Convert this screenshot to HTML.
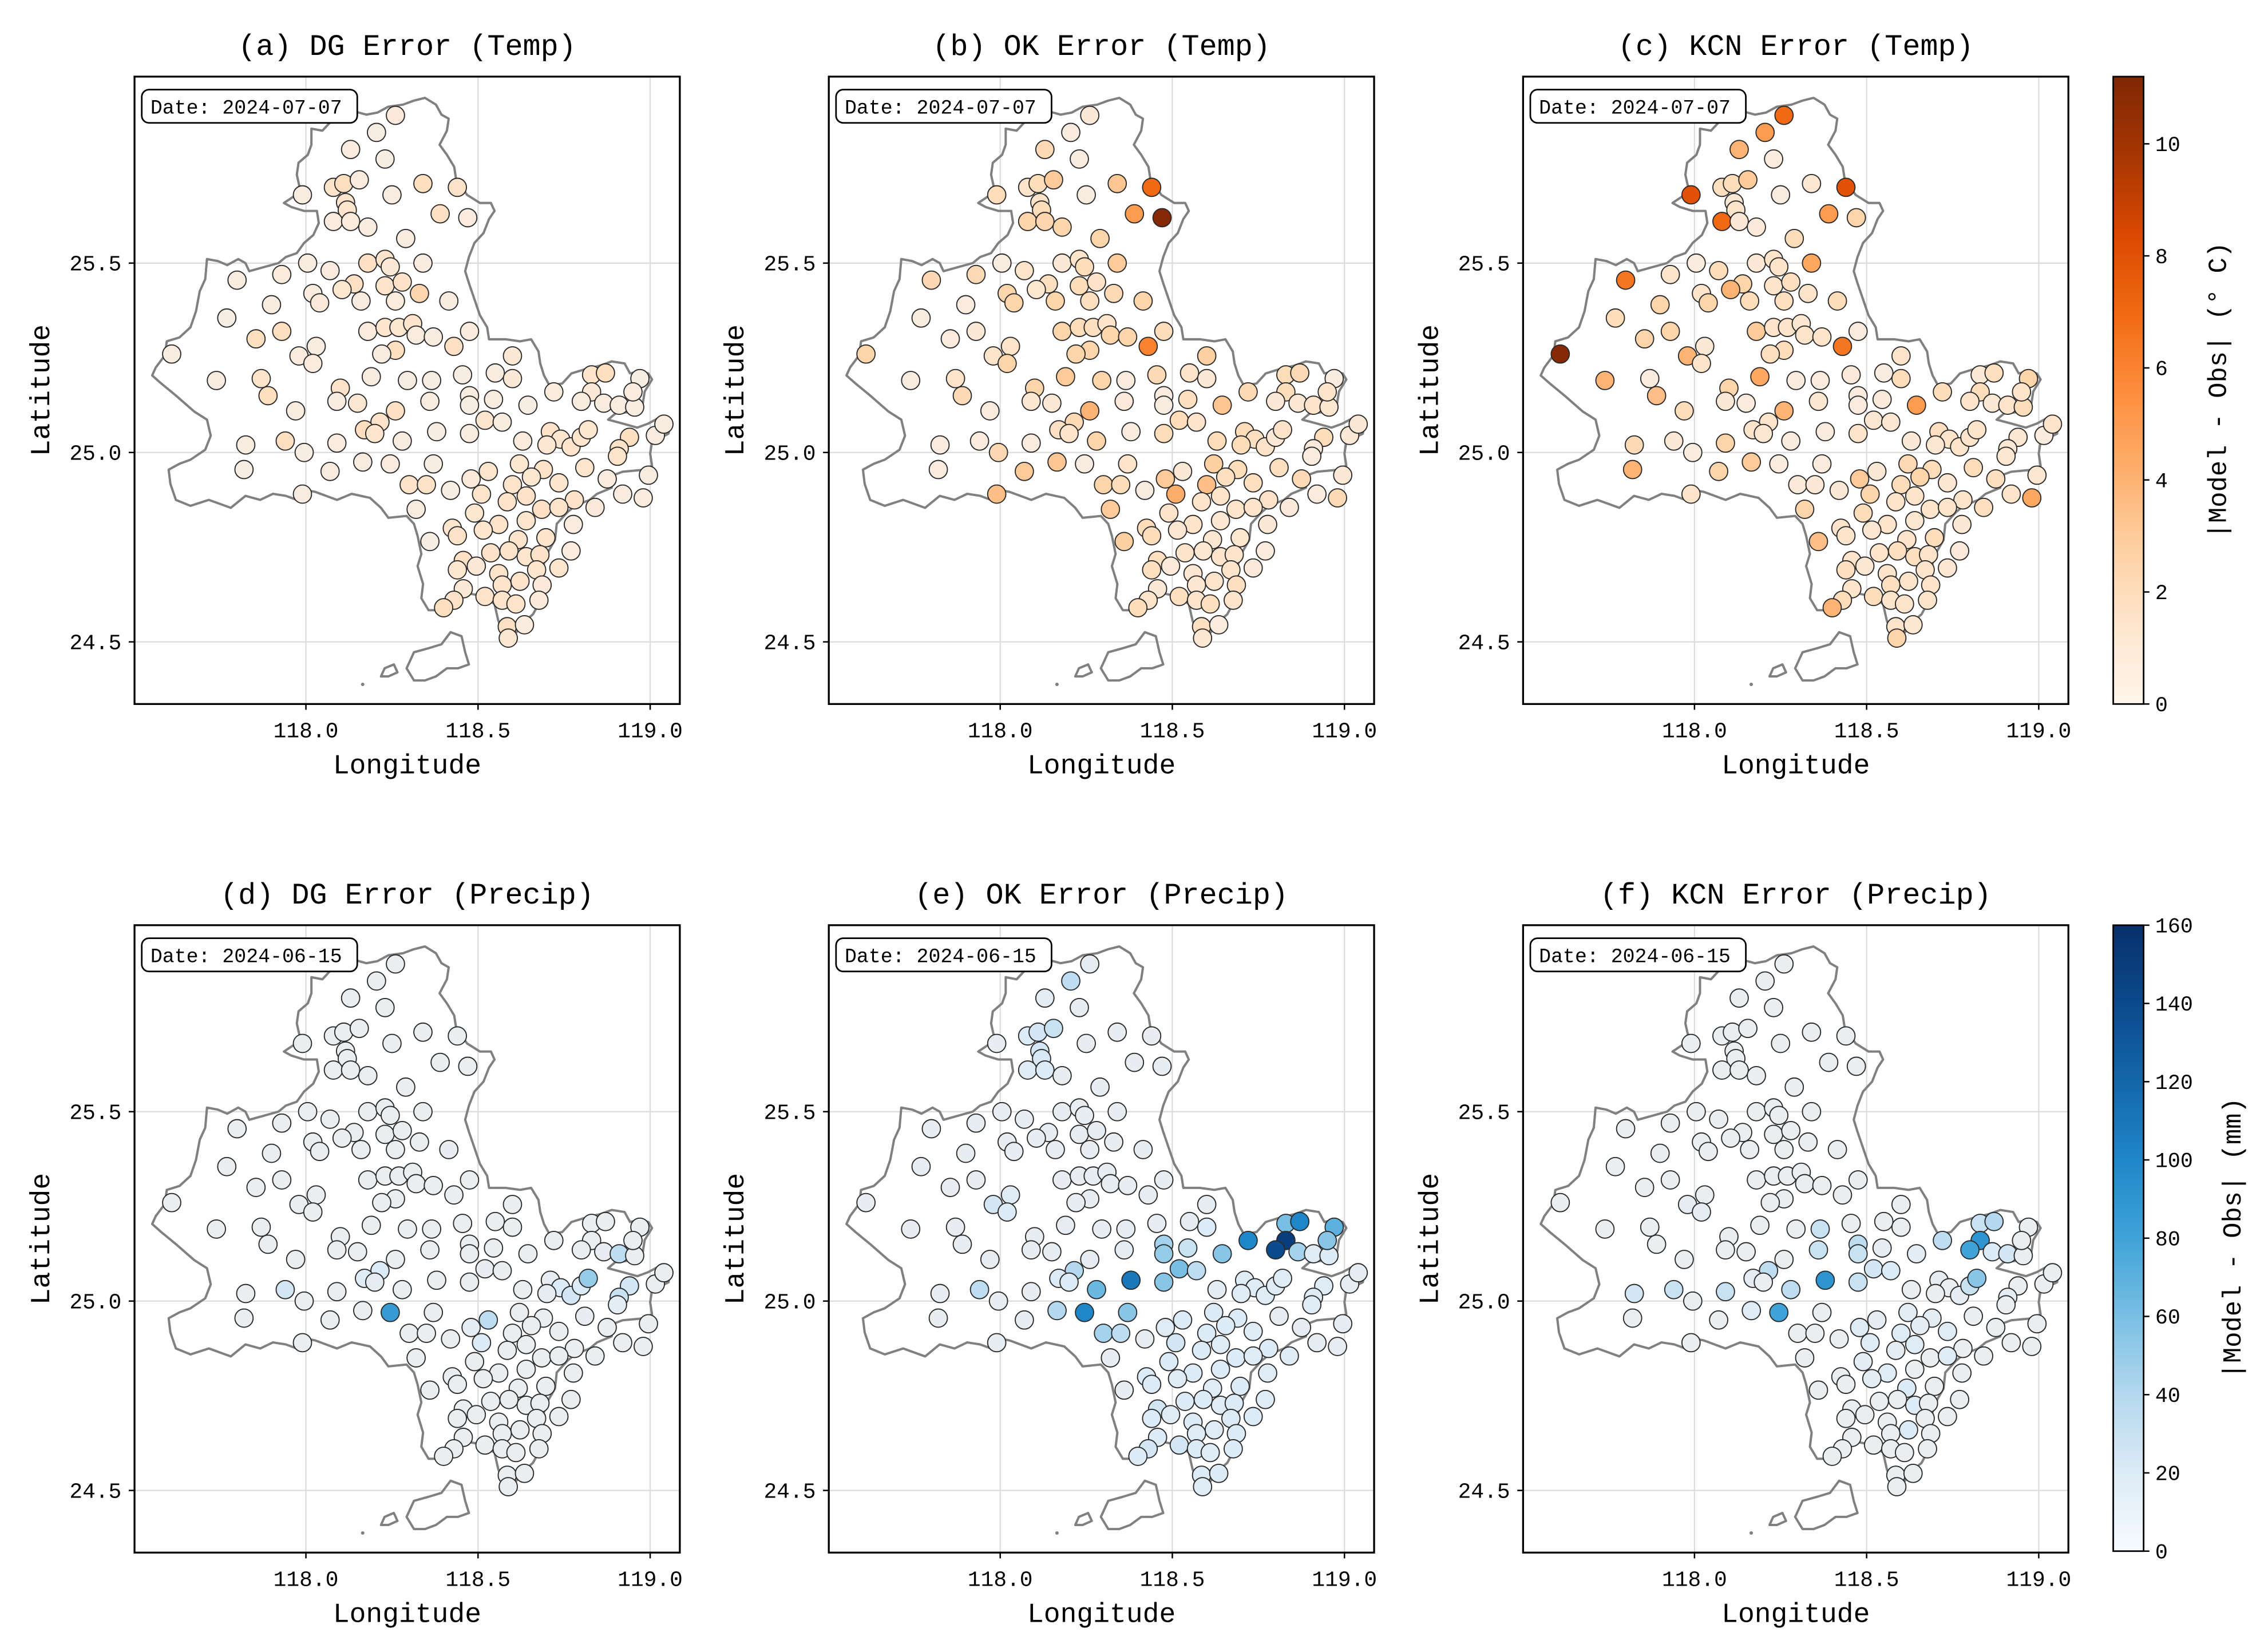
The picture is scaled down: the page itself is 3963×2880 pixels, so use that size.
<!DOCTYPE html>
<html><head><meta charset="utf-8"><style>
html,body{margin:0;padding:0;background:#fff}
svg{display:block}
text{font-family:"Liberation Mono","Noto Sans CJK SC",monospace;fill:#000}
</style></head><body>
<svg id="fig" width="3963" height="2880" viewBox="0 0 1568 1140" preserveAspectRatio="none" xmlns="http://www.w3.org/2000/svg">
<defs>
<linearGradient id="gradT" x1="0" y1="1" x2="0" y2="0">
<stop offset="0" stop-color="#fff5eb"/><stop offset="0.125" stop-color="#fee6ce"/><stop offset="0.25" stop-color="#fdd0a2"/><stop offset="0.375" stop-color="#fdae6b"/><stop offset="0.5" stop-color="#fd8d3c"/><stop offset="0.625" stop-color="#f16913"/><stop offset="0.75" stop-color="#d94801"/><stop offset="0.875" stop-color="#a63603"/><stop offset="1" stop-color="#7f2704"/>
</linearGradient>
<linearGradient id="gradP" x1="0" y1="1" x2="0" y2="0">
<stop offset="0" stop-color="#f7fbff"/><stop offset="0.125" stop-color="#dcebf6"/><stop offset="0.25" stop-color="#b4d8ee"/><stop offset="0.375" stop-color="#79bfe4"/><stop offset="0.5" stop-color="#3fa3d8"/><stop offset="0.625" stop-color="#1f86c8"/><stop offset="0.75" stop-color="#1467ab"/><stop offset="0.875" stop-color="#0b4a8c"/><stop offset="1" stop-color="#08306b"/>
</linearGradient>
</defs>
</svg>
<script>
const stationLon=[118.26,118.205,118.13,118.23,117.99,118.08,118.11,118.155,118.115,118.12,
118.08,118.13,118.18,118.25,118.34,118.44,118.39,118.47,118.29,118.18,
118.23,118.245,118.34,118.07,118.005,117.93,117.80,118.14,118.105,118.23,
118.28,118.33,118.02,118.04,118.16,118.26,118.415,117.90,117.77,117.93,
117.855,118.18,118.23,118.27,118.31,118.32,118.37,118.475,118.43,118.26,
118.22,118.03,117.98,118.02,117.61,117.74,117.87,117.89,118.19,118.10,
118.09,118.15,118.295,118.365,118.36,118.455,118.55,118.60,118.60,118.475,
118.475,118.545,118.645,118.72,118.83,118.87,118.97,118.83,118.80,118.865,
118.91,118.955,118.95,118.26,118.215,118.17,118.20,117.97,118.52,118.57,
118.38,118.475,118.28,118.09,117.995,117.94,117.825,117.82,118.07,118.165,
118.245,118.37,117.99,118.30,118.35,118.42,118.32,118.36,118.63,118.71,
118.74,118.77,118.70,118.80,118.82,118.94,118.91,118.905,119.015,119.04,
118.81,118.875,118.995,118.92,118.98,118.62,118.69,118.655,118.53,118.48,
118.60,118.735,118.78,118.84,118.51,118.585,118.64,118.685,118.735,118.49,
118.64,118.777,118.56,118.515,118.425,118.44,118.617,118.697,118.77,118.537,
118.59,118.64,118.68,118.457,118.44,118.495,118.735,118.56,118.622,118.67,
118.57,118.457,118.686,118.52,118.57,118.61,118.677,118.43,118.40,118.585,
118.635,118.588];
const stationLat=[25.89,25.845,25.80,25.775,25.68,25.70,25.71,25.72,25.66,25.64,
25.61,25.61,25.595,25.68,25.71,25.70,25.63,25.62,25.565,25.50,
25.51,25.49,25.50,25.48,25.50,25.47,25.455,25.445,25.43,25.44,
25.45,25.42,25.42,25.395,25.40,25.40,25.40,25.39,25.355,25.32,
25.30,25.32,25.33,25.33,25.34,25.31,25.305,25.32,25.28,25.27,
25.26,25.28,25.255,25.235,25.26,25.19,25.195,25.15,25.20,25.17,
25.135,25.13,25.19,25.19,25.135,25.205,25.21,25.195,25.255,25.15,
25.125,25.14,25.125,25.16,25.205,25.21,25.195,25.16,25.135,25.13,
25.125,25.12,25.16,25.11,25.08,25.06,25.05,25.11,25.085,25.08,
25.055,25.05,25.03,25.025,25.00,25.03,25.02,24.955,24.95,24.975,
24.97,24.97,24.89,24.915,24.915,24.90,24.85,24.765,25.03,25.055,
25.035,25.015,25.02,25.04,25.06,25.04,25.01,24.99,25.045,25.075,
24.96,24.93,24.94,24.89,24.88,24.97,24.955,24.935,24.95,24.93,
24.915,24.92,24.875,24.855,24.89,24.87,24.885,24.85,24.855,24.84,
24.82,24.81,24.81,24.795,24.80,24.78,24.77,24.775,24.74,24.735,
24.74,24.725,24.73,24.715,24.69,24.70,24.695,24.68,24.66,24.69,
24.65,24.64,24.65,24.62,24.61,24.60,24.61,24.61,24.59,24.54,
24.545,24.51];
const errDGTemp=[0.8,0.3,0.6,0.3,0.4,1.5,1.8,0.6,1.5,1.4,
0.5,0.7,0.4,0.4,1.8,1.6,1.7,0.6,0.4,1.7,
1.5,1.0,0.4,0.5,0.4,0.7,0.4,1.7,1.3,1.5,
1.6,2.4,0.5,0.8,0.4,0.7,0.4,0.4,0.3,1.8,
1.8,0.6,1.4,1.3,1.5,0.6,0.4,0.5,1.7,1.8,
0.4,0.4,0.5,0.7,0.4,0.4,1.5,1.8,0.4,1.6,
0.4,1.2,0.3,0.3,0.4,0.3,0.4,1.0,1.0,0.4,
0.3,0.4,0.3,0.7,1.5,1.8,0.3,1.0,0.4,0.6,
0.4,0.4,0.6,1.7,1.6,1.9,1.4,0.4,1.4,0.4,
0.3,0.4,0.4,0.6,0.3,1.8,0.4,0.3,0.4,0.4,
0.6,0.3,0.4,1.6,1.6,0.3,0.4,0.3,0.7,1.6,
1.4,1.5,1.2,1.4,1.3,1.8,1.6,1.5,0.5,0.4,
1.4,0.5,0.4,0.5,0.5,1.3,1.6,1.3,1.4,0.8,
1.5,1.4,1.6,0.8,1.5,1.5,1.6,1.7,1.5,1.3,
1.4,0.5,1.5,1.4,1.4,1.6,1.5,1.5,0.5,1.6,
1.5,1.4,1.6,1.7,1.3,1.0,1.4,1.5,1.5,1.4,
1.5,1.0,0.8,1.5,1.5,1.5,0.8,1.6,1.8,1.7,
0.6,1.2];
const errOKTemp=[1.0,0.5,2.2,0.4,2.0,1.5,2.0,3.0,1.6,2.0,
2.5,2.4,2.5,0.4,3.2,7.0,5.0,11.0,2.5,1.0,
1.5,2.0,3.0,1.5,0.4,2.2,2.3,1.8,1.3,2.0,
1.6,2.2,2.5,2.5,2.5,1.8,2.5,0.6,0.4,1.0,
0.5,2.5,2.0,1.8,1.5,2.5,2.5,2.0,6.0,2.5,
2.5,1.5,1.5,2.5,2.5,0.4,1.5,2.2,3.0,2.5,
1.2,1.0,2.5,0.6,0.8,2.2,1.5,1.0,2.8,0.5,
0.4,1.8,3.2,2.2,2.0,2.2,0.4,2.0,1.0,1.2,
1.5,1.3,1.5,4.0,2.2,1.7,1.5,0.6,2.0,1.5,
0.5,2.0,2.5,0.6,2.3,0.6,0.5,0.5,3.0,3.2,
0.4,1.5,3.5,2.5,2.0,0.4,3.0,2.8,2.0,2.0,
1.8,1.6,2.0,1.0,1.6,2.0,0.8,0.6,1.0,1.0,
1.8,2.2,1.0,0.5,2.2,2.8,2.0,1.8,1.0,3.0,
3.5,1.8,1.6,0.8,4.2,1.5,1.5,1.5,1.5,1.5,
1.2,1.0,1.5,1.2,2.0,2.0,1.2,1.3,0.6,1.5,
1.2,1.5,1.5,1.8,1.8,0.8,0.8,1.2,1.5,1.5,
1.2,1.0,1.8,1.8,1.5,1.8,1.5,1.5,2.0,1.8,
0.6,1.2];
const errKCNTemp=[7.0,5.0,4.0,0.5,8.0,1.8,2.0,3.0,1.0,1.5,
7.0,1.0,0.8,0.4,1.2,8.0,5.0,2.5,2.0,1.0,
1.5,1.5,4.5,2.0,0.5,1.5,6.5,2.5,4.0,1.5,
1.8,1.5,1.5,2.5,2.0,1.8,2.0,2.5,2.0,2.5,
2.5,3.0,1.5,1.5,1.2,1.5,1.5,0.5,6.5,2.0,
1.8,1.0,4.0,1.5,11.0,4.0,0.6,3.5,4.5,2.5,
1.0,0.6,0.5,0.5,1.2,0.8,0.4,2.0,1.5,0.5,
0.6,0.8,5.0,2.0,1.0,1.8,2.5,2.0,1.5,1.0,
1.5,2.0,1.5,4.0,1.5,1.5,1.2,2.0,1.2,1.2,
0.5,1.5,0.6,2.5,0.5,1.0,2.2,4.0,2.5,3.0,
0.5,0.6,1.5,0.8,1.0,1.0,2.5,3.5,1.0,1.8,
1.5,1.5,1.2,1.5,1.5,1.2,1.0,1.2,0.5,1.5,
2.0,1.8,1.2,1.5,4.5,2.2,2.0,2.5,1.0,3.0,
2.0,1.2,1.5,1.8,2.5,1.5,1.5,1.5,1.5,2.0,
1.2,1.0,1.5,1.2,1.5,1.5,1.5,2.0,0.8,1.5,
1.8,1.8,1.5,1.5,1.8,1.2,1.2,1.5,1.5,1.5,
1.8,1.5,1.5,2.0,1.5,1.5,1.5,2.0,4.0,1.5,
1.2,2.5];
const errDGPrecip=[2,2,2,2,2,2,2,2,2,2,
2,2,2,2,2,2,2,2,2,2,
2,2,2,2,2,2,2,2,2,2,
2,2,2,2,2,2,4,3,2,2,
2,2,2,2,2,2,2,2,2,2,
2,2,3,2,2,2,2,2,2,2,
2,2,2,2,2,2,2,2,2,3,
3,2,2,2,3,3,2,3,3,4,
35,2,3,3,20,15,8,2,4,3,
2,3,3,2,3,25,2,2,2,2,
85,3,2,2,2,3,2,2,3,5,
20,25,8,20,50,25,30,10,3,3,
4,3,2,2,2,3,3,3,35,10,
3,3,3,3,20,3,3,3,3,3,
3,2,3,3,2,2,3,3,2,3,
3,3,2,2,2,3,2,3,3,2,
3,2,3,2,3,2,2,2,2,3,
2,2];
const errOKPrecip=[8,35,10,5,4,20,25,30,25,22,
15,20,5,4,5,4,4,5,5,5,
5,5,5,5,5,5,5,5,5,5,
5,5,5,5,5,5,5,5,5,4,
4,4,4,5,5,5,5,5,5,5,
5,15,25,20,4,4,4,5,5,5,
5,5,5,8,8,5,8,20,5,45,
50,30,55,100,60,100,70,150,140,45,
15,20,55,8,40,20,20,5,60,35,
110,55,65,5,5,35,5,5,5,40,
100,55,5,45,35,5,5,5,10,15,
15,15,15,15,15,15,15,15,8,8,
8,8,8,8,8,20,20,20,20,15,
20,15,20,15,25,20,15,20,15,20,
20,15,20,15,20,20,15,20,15,20,
20,15,20,25,20,15,20,20,15,20,
15,20,20,25,20,15,20,25,20,20,
20,15];
const errKCNPrecip=[3,3,3,3,3,3,3,3,3,3,
3,3,3,3,3,3,3,3,3,3,
3,3,3,3,3,3,3,3,3,3,
3,3,3,3,3,3,3,3,3,3,
3,3,3,3,3,3,3,3,3,3,
3,3,8,8,3,3,3,3,3,3,
3,3,3,30,30,3,3,3,3,35,
30,8,10,35,30,40,3,90,80,20,
25,3,3,3,35,8,3,3,25,20,
90,30,35,30,3,30,25,3,3,15,
80,3,3,3,3,3,3,3,3,8,
3,8,3,30,55,3,10,3,3,3,
3,3,3,3,3,10,10,10,8,15,
15,15,3,3,15,10,15,3,15,10,
3,3,15,10,3,3,20,3,3,3,
3,20,3,3,3,3,3,3,20,3,
3,3,3,3,3,3,3,3,3,3,
3,3];
const lonTicks=[118.0,118.5,119.0];
const latTicks=[24.5,25.0,25.5];
const tempCbarTicks=[0,2,4,6,8,10];
const precipCbarTicks=[0,20,40,60,80,100,120,140,160];
const panelTitles=["(a) DG Error (Temp)","(b) OK Error (Temp)","(c) KCN Error (Temp)","(d) DG Error (Precip)","(e) OK Error (Precip)","(f) KCN Error (Precip)"];
const panelDates=["Date: 2024-07-07","Date: 2024-06-15"];

const outlineTrace=[[800,58],[830,75],[845,100],[865,110],[860,140],[840,175],[860,200],[880,230],[885,260],[915,300],[950,320],[980,320],[990,340],[975,360],[960,395],[935,420],[920,455],[910,490],[920,520],[935,560],[950,600],[970,630],[975,660],[1020,660],[1060,665],[1090,660],[1110,690],[1115,720],[1125,750],[1140,775],[1175,770],[1200,745],[1235,735],[1280,725],[1310,715],[1345,720],[1360,745],[1385,740],[1410,745],[1420,760],[1400,790],[1395,820],[1370,840],[1320,845],[1300,860],[1340,870],[1380,880],[1410,870],[1440,855],[1470,865],[1465,895],[1420,915],[1415,945],[1420,975],[1400,985],[1340,990],[1310,1000],[1310,1030],[1270,1045],[1250,1060],[1210,1075],[1190,1090],[1160,1120],[1155,1160],[1130,1200],[1120,1240],[1130,1280],[1110,1320],[1095,1345],[1070,1365],[1050,1390],[1010,1385],[1000,1360],[990,1320],[960,1300],[930,1295],[905,1290],[870,1305],[840,1335],[810,1335],[790,1305],[795,1270],[780,1225],[790,1195],[780,1150],[770,1120],[750,1100],[700,1105],[680,1080],[650,1055],[600,1045],[560,1060],[530,1050],[500,1040],[470,1035],[450,1060],[420,1050],[385,1045],[350,1060],[310,1050],[270,1080],[210,1060],[160,1075],[120,1060],[105,1020],[100,985],[130,970],[160,960],[200,935],[215,900],[205,860],[170,840],[120,800],[80,770],[55,750],[65,730],[90,700],[95,665],[130,655],[160,630],[175,590],[185,540],[200,510],[205,460],[235,465],[260,475],[290,460],[310,470],[320,490],[360,480],[400,470],[420,455],[450,445],[470,420],[495,400],[510,370],[505,340],[470,340],[435,330],[415,320],[440,305],[460,290],[450,250],[455,220],[480,200],[490,175],[490,135],[520,140],[540,120],[560,110],[600,90],[640,100],[670,95],[700,80],[740,75],[770,65]];
const islandA=[[750,1480],[770,1440],[810,1430],[845,1420],[870,1390],[900,1400],[910,1440],[920,1470],[890,1480],[860,1480],[830,1500],[800,1510],[770,1510]];
const islandB=[[690,1480],[715,1470],[725,1490],[700,1500],[680,1500]];

const NS='http://www.w3.org/2000/svg';
const svg=document.getElementById('fig');
function mk(tag,attrs,parent){const e=document.createElementNS(NS,tag);for(const k in attrs)e.setAttribute(k,attrs[k]);(parent||svg).appendChild(e);return e;}
const oranges=['#f6efe8','#fee6ce','#fdd0a2','#fdae6b','#fd8d3c','#f16913','#d94801','#a63603','#7f2704'];
const blues=['#eceef0','#dcebf6','#b4d8ee','#79bfe4','#3fa3d8','#1f86c8','#1467ab','#0b4a8c','#08306b'];
function hex(h){return [1,3,5].map(i=>parseInt(h.substr(i,2),16));}
function cmap(st,t){t=Math.max(0,Math.min(1,t));const p=t*(st.length-1);const i=Math.min(st.length-2,Math.floor(p));const f=p-i;const a=hex(st[i]),b=hex(st[i+1]);return 'rgb('+a.map((v,k)=>Math.round(v+(b[k]-v)*f)).join(',')+')';}

const PW=377,PH=434,LON0=117.5021,LAT1=25.9924,KX=238,KY=262;
const cols=[93,573,1053],rows=[53,640];
const panelData=[[errDGTemp,errOKTemp,errKCNTemp],[errDGPrecip,errOKPrecip,errKCNPrecip]];
const vmax=[11.2,160];
const traceLon=z=>118+(z-475)/940, traceLat=z=>25.5-(z-470)/944;

for(let r=0;r<2;r++)for(let c=0;c<3;c++){
  const L=cols[c],T=rows[r];
  const X=lon=>L+(lon-LON0)*KX, Y=lat=>T+(LAT1-lat)*KY;
  const g=mk('g',{});
  
  
  const cid='clip'+r+c;
  const cp=mk('clipPath',{id:cid},g);mk('rect',{x:L,y:T,width:PW,height:PH},cp);
  lonTicks.forEach(v=>{const l=mk('line',{x1:X(v),x2:X(v),y1:T,y2:T+PH,stroke:'#dcdcdc','stroke-width':0.9},g);});
  latTicks.forEach(v=>{const l=mk('line',{x1:L,x2:L+PW,y1:Y(v),y2:Y(v),stroke:'#dcdcdc','stroke-width':0.9},g);});
  const inner=mk('g',{'clip-path':'url(#'+cid+')'},g);
  const poly=pts=>pts.map((p,i)=>(i?'L':'M')+X(traceLon(p[0])).toFixed(1)+' '+Y(traceLat(p[1])).toFixed(1)).join('')+'Z';
  const ol=mk('path',{d:poly(outlineTrace)+poly(islandA)+poly(islandB),fill:'none',stroke:'#808080','stroke-width':1.6,'stroke-linejoin':'round'},inner);
  
  
  mk('circle',{cx:X(traceLon(630)),cy:Y(traceLat(1520)),r:1.2,fill:'#808080'},inner);
  const vals=panelData[r][c];
  const st=r===0?oranges:blues;
  stationLon.forEach((_,i)=>{
    const ci=mk('circle',{cx:X(stationLon[i]).toFixed(1),cy:Y(stationLat[i]).toFixed(1),r:6.3,fill:cmap(st,vals[i]/vmax[r]),stroke:'#2a2a2a','stroke-width':0.75},inner);
    
    
  });
  const fr=mk('rect',{x:L,y:T,width:PW,height:PH,fill:'none',stroke:'#000','stroke-width':1.3},g);
  
  
  lonTicks.forEach(v=>{mk('line',{x1:X(v),x2:X(v),y1:T+PH,y2:T+PH+4,stroke:'#000','stroke-width':1},g);
    const t=mk('text',{x:X(v),y:T+PH+23,'text-anchor':'middle','font-size':15},g);t.textContent=v.toFixed(1);
    });
  latTicks.forEach(v=>{mk('line',{x1:L-4,x2:L,y1:Y(v),y2:Y(v),stroke:'#000','stroke-width':1},g);
    const t=mk('text',{x:L-9,y:Y(v)+5,'text-anchor':'end','font-size':15},g);t.textContent=v.toFixed(1);
    });
  const xl=mk('text',{x:L+PW/2,y:T+PH+48,'text-anchor':'middle','font-size':19},g);xl.textContent='Longitude';
  
  const yl=mk('text',{x:0,y:0,'text-anchor':'middle','font-size':19,transform:'translate('+(L-59)+','+(T+PH/2)+') rotate(-90)'},g);yl.textContent='Latitude';
  
  const ti=mk('text',{x:L+PW/2,y:T-15,'text-anchor':'middle','font-size':20.5},g);ti.textContent=panelTitles[r*3+c];
  
  const db=mk('g',{},g);
  
  
  mk('rect',{x:L+5,y:T+9,width:149,height:23,rx:5,fill:'#fff',stroke:'#000','stroke-width':1.1},db);
  const dt=mk('text',{x:L+11,y:T+25.5,'font-size':13.8},db);dt.textContent=panelDates[r];
}
function cbar(top,h,ticks,vm,grad,label,lx,name){
  const g=mk('g',{});
  
  
  const x=1461,w=21;
  mk('rect',{x:x,y:top,width:w,height:h,fill:'url(#'+grad+')',stroke:'#000','stroke-width':1.1},g);
  ticks.forEach(v=>{const y=top+h-v/vm*h;mk('line',{x1:x+w,x2:x+w+4,y1:y,y2:y,stroke:'#000','stroke-width':1},g);
    const t=mk('text',{x:x+w+8,y:y+5,'font-size':14.5},g);t.textContent=String(v);
    });
  const t=mk('text',{x:0,y:0,'text-anchor':'middle','font-size':18,transform:'translate('+lx+','+(top+h/2)+') rotate(-90)'},g);t.textContent=label;
  
}
cbar(53,434,tempCbarTicks,11.2,'gradT','|Model - Obs| (° C)',1539,'temp-colorbar');
cbar(640,433,precipCbarTicks,160,'gradP','|Model - Obs| (mm)',1549,'precip-colorbar');
</script>
</body></html>
